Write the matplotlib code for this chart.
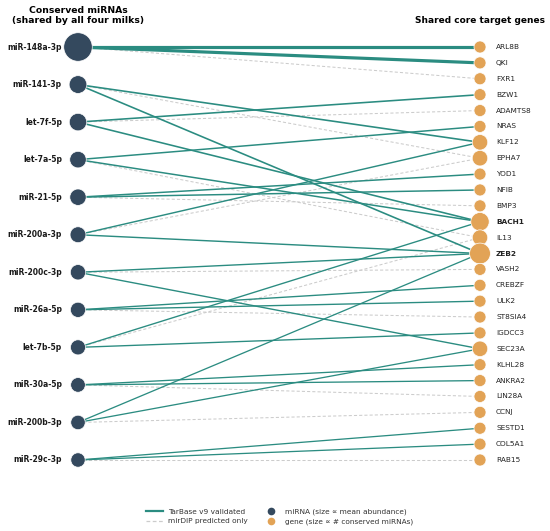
import matplotlib
matplotlib.use("Agg")
import matplotlib.pyplot as plt
from matplotlib.lines import Line2D

# ---------------------------
# DONNEES
# ---------------------------
mirnas = ["miR-148a-3p", "miR-141-3p", "let-7f-5p", "let-7a-5p", "miR-21-5p",
          "miR-200a-3p", "miR-200c-3p", "miR-26a-5p", "let-7b-5p", "miR-30a-5p",
          "miR-200b-3p", "miR-29c-3p"]
abundance = [28.0, 9.5, 9.2, 8.0, 7.8, 7.2, 6.6, 6.4, 6.3, 5.8, 5.6, 5.5]

genes = ["ARL8B", "QKI", "FXR1", "BZW1", "ADAMTS8", "NRAS", "KLF12", "EPHA7",
         "YOD1", "NFIB", "BMP3", "BACH1", "IL13", "ZEB2", "VASH2", "CREBZF",
         "ULK2", "ST8SIA4", "IGDCC3", "SEC23A", "KLHL28", "ANKRA2", "LIN28A",
         "CCNJ", "SESTD1", "COL5A1", "RAB15"]

validated = [("miR-148a-3p", "ARL8B"), ("miR-148a-3p", "QKI"),
             ("miR-141-3p", "KLF12"), ("miR-141-3p", "ZEB2"),
             ("let-7f-5p", "BZW1"), ("let-7f-5p", "BACH1"),
             ("let-7a-5p", "NRAS"), ("let-7a-5p", "BACH1"),
             ("miR-21-5p", "YOD1"), ("miR-21-5p", "NFIB"),
             ("miR-200a-3p", "KLF12"), ("miR-200a-3p", "ZEB2"),
             ("miR-200c-3p", "ZEB2"), ("miR-200c-3p", "SEC23A"),
             ("miR-26a-5p", "CREBZF"), ("miR-26a-5p", "ULK2"),
             ("let-7b-5p", "BACH1"), ("let-7b-5p", "IGDCC3"),
             ("miR-30a-5p", "KLHL28"), ("miR-30a-5p", "ANKRA2"),
             ("miR-200b-3p", "ZEB2"), ("miR-200b-3p", "SEC23A"),
             ("miR-29c-3p", "SESTD1"), ("miR-29c-3p", "COL5A1")]

predicted = [("miR-148a-3p", "FXR1"), ("miR-141-3p", "EPHA7"),
             ("let-7f-5p", "ADAMTS8"), ("let-7a-5p", "IL13"),
             ("miR-21-5p", "BMP3"), ("miR-200a-3p", "EPHA7"),
             ("miR-200c-3p", "VASH2"), ("miR-26a-5p", "ST8SIA4"),
             ("let-7b-5p", "IL13"), ("miR-30a-5p", "LIN28A"),
             ("miR-200b-3p", "CCNJ"), ("miR-29c-3p", "RAB15")]

# couleurs
TEAL = "#2b8c81"
NAVY = "#34495e"
ORANGE = "#e2a356"
GREY = "#cccccc"

# ---------------------------
# POSITIONS
# ---------------------------
n_m, n_g = len(mirnas), len(genes)
y_mir = {m: i / (n_m - 1) for i, m in enumerate(mirnas)}
y_gene = {g: i / (n_g - 1) for i, g in enumerate(genes)}
ab = dict(zip(mirnas, abundance))

count = {g: 0 for g in genes}
for m, g in validated + predicted:
    count[g] += 1

fig = plt.figure(figsize=(5.5, 5.31), dpi=100)
ax = fig.add_axes([0, 0, 1, 1])
ax.set_xlim(-78 / 402, 472 / 402)
ax.set_ylim(484 / 413, -47 / 413)
ax.axis("off")

# aretes predites (dessous)
for m, g in predicted:
    ax.plot([0, 1], [y_mir[m], y_gene[g]], color=GREY, lw=0.75,
            linestyle=(0, (3, 2)), zorder=1)

# aretes validees
for m, g in validated:
    ax.plot([0, 1], [y_mir[m], y_gene[g]], color=TEAL,
            lw=0.6 + ab[m] * 0.06, zorder=2, solid_capstyle="round")

# noeuds
ax.scatter([0] * n_m, [y_mir[m] for m in mirnas],
           s=[30 + 14 * a for a in abundance], color=NAVY, zorder=3,
           edgecolors="white", linewidths=0.5)
ax.scatter([1] * n_g, [y_gene[g] for g in genes],
           s=[25 + 50 * count[g] for g in genes], color=ORANGE, zorder=3,
           edgecolors="white", linewidths=0.5)

# etiquettes
for m in mirnas:
    ax.text(-0.04, y_mir[m], m, ha="right", va="center", fontsize=5.5,
            fontweight="bold", color="#1a1a1a")
for g in genes:
    ax.text(1.04, y_gene[g], g, ha="left", va="center", fontsize=5.3,
            fontweight="bold" if count[g] >= 3 else "normal", color="#222222")

ax.text(0, -0.076, "Conserved miRNAs\n(shared by all four milks)", ha="center",
        va="center", fontsize=6.7, fontweight="bold", linespacing=1.1)
ax.text(1, -0.065, "Shared core target genes", ha="center", va="center",
        fontsize=6.5, fontweight="bold")

# legende
handles = [
    Line2D([0], [0], color=TEAL, lw=1.6),
    Line2D([0], [0], color=GREY, lw=0.9, linestyle=(0, (3, 2))),
    Line2D([0], [0], marker="o", color="none", markerfacecolor=NAVY,
           markeredgecolor="none", markersize=5.5),
    Line2D([0], [0], marker="o", color="none", markerfacecolor=ORANGE,
           markeredgecolor="none", markersize=5.5),
]
labels = ["TarBase v9 validated", "mirDIP predicted only",
          "miRNA (size \u221d mean abundance)", "gene (size \u221d # conserved miRNAs)"]
fig.legend(handles, labels, loc="upper center", bbox_to_anchor=(0.508, 1 - 502 / 531),
           ncol=2, frameon=False, fontsize=5.3, labelspacing=0.45,
           columnspacing=1.9, handlelength=2.3, labelcolor="#333333")

plt.savefig("out.png", dpi=100)
